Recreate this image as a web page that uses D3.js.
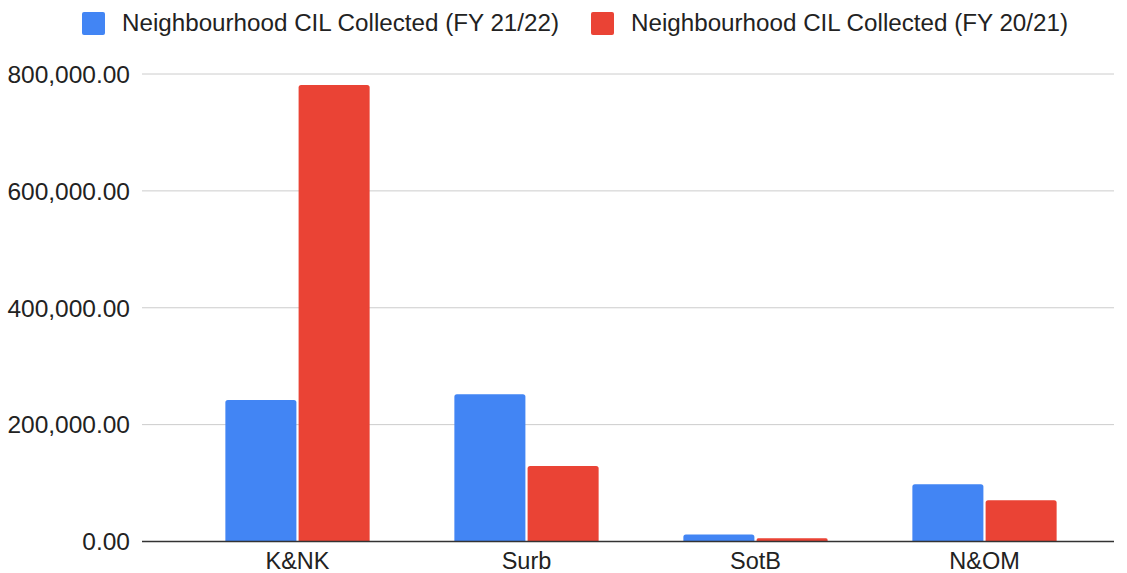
<!DOCTYPE html>
<html>
<head>
<meta charset="utf-8">
<script src="https://cdn.jsdelivr.net/npm/d3@7"></script>
<style>
  body { margin: 0; background: #fff; }
  text { font-family: "Liberation Sans", Arial, sans-serif; fill: #222; }
</style>
</head>
<body>
<svg id="chart" width="1127" height="573"></svg>
<script>
// data
const categories = ["K&NK", "Surb", "SotB", "N&OM"];
const seriesNames = ["Neighbourhood CIL Collected (FY 21/22)", "Neighbourhood CIL Collected (FY 20/21)"];
const fy2122 = [242000, 252000, 12000, 98000];
const fy2021 = [781000, 129000, 5500, 70500];
const yTicks = [0, 200000, 400000, 600000, 800000];
const colors = ["#4285F4", "#EA4335"];

const svg = d3.select("#chart");
const plot = { left: 142, right: 1114, top: 74, bottom: 541.5 };

// scales
const x = d3.scaleBand()
    .domain(categories)
    .range([183, 1099]);

const y = d3.scaleLinear()
    .domain([0, 800000])
    .range([plot.bottom, plot.top]);

const groupWidth = x.bandwidth() * 0.63;
const inner = d3.scaleBand()
    .domain([0, 1])
    .range([0, groupWidth])
    .paddingInner(0.03);

// gridlines
svg.append("g")
    .selectAll("line")
    .data(yTicks.slice(1))
    .join("line")
    .attr("x1", plot.left)
    .attr("x2", plot.right)
    .attr("y1", d => y(d))
    .attr("y2", d => y(d))
    .attr("stroke", "#cccccc")
    .attr("stroke-width", 1);

// y labels
svg.append("g")
    .selectAll("text")
    .data(yTicks)
    .join("text")
    .attr("x", 130)
    .attr("y", d => y(d))
    .attr("dy", "0.36em")
    .attr("text-anchor", "end")
    .attr("font-size", 24.5)
    .text(d => d3.format(",.2f")(d));

// bars
const rows = categories.map((c, i) => ({ cat: c, vals: [fy2122[i], fy2021[i]] }));
const groups = svg.append("g")
    .selectAll("g")
    .data(rows)
    .join("g")
    .attr("transform", d => "translate(" + (x(d.cat) + (x.bandwidth() - groupWidth) / 2) + ",0)");

groups.selectAll("path")
    .data(d => d.vals.map((v, k) => ({ v, k })))
    .join("path")
    .attr("fill", d => colors[d.k])
    .attr("d", d => {
        const x0 = inner(d.k), w = inner.bandwidth();
        const y0 = y(d.v), y1 = y(0);
        const r = Math.min(2.5, (y1 - y0) / 2);
        return "M" + x0 + "," + y1 +
            "V" + (y0 + r) +
            "Q" + x0 + "," + y0 + " " + (x0 + r) + "," + y0 +
            "H" + (x0 + w - r) +
            "Q" + (x0 + w) + "," + y0 + " " + (x0 + w) + "," + (y0 + r) +
            "V" + y1 + "Z";
    });

// baseline
svg.append("line")
    .attr("x1", plot.left)
    .attr("x2", plot.right)
    .attr("y1", y(0))
    .attr("y2", y(0))
    .attr("stroke", "#333333")
    .attr("stroke-width", 1.3);

// x labels
svg.append("g")
    .selectAll("text")
    .data(categories)
    .join("text")
    .attr("x", d => x(d) + x.bandwidth() / 2)
    .attr("y", 569)
    .attr("text-anchor", "middle")
    .attr("font-size", 23.5)
    .text(d => d);

// legend
const legendX = [82, 591];
const legend = svg.append("g")
    .selectAll("g")
    .data(seriesNames)
    .join("g")
    .attr("transform", (d, i) => "translate(" + legendX[i] + ",12)");

legend.append("rect")
    .attr("width", 23)
    .attr("height", 23)
    .attr("rx", 2)
    .attr("fill", (d, i) => colors[i]);

legend.append("text")
    .attr("x", 40)
    .attr("y", 19)
    .attr("font-size", 24.2)
    .text(d => d);
</script>
</body>
</html>
